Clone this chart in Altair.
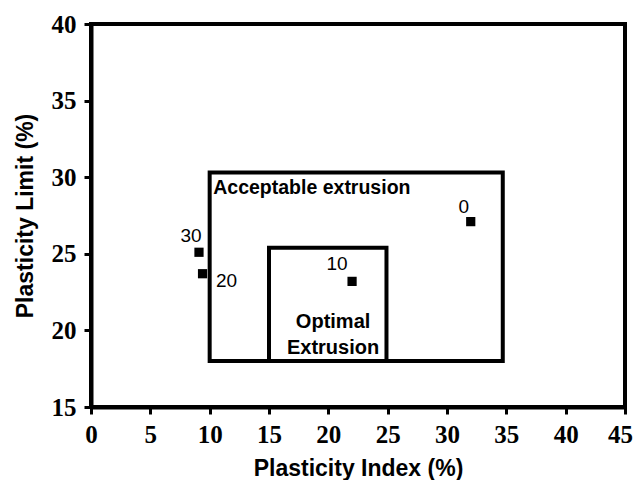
import altair as alt
import pandas as pd

# data
pi_vals = [32.0, 22.0, 9.4, 9.1]
pl_vals = [27.1, 23.2, 23.7, 25.1]
labels = ["0", "10", "20", "30"]

box_names = ["Acceptable", "Optimal"]
box_x1 = [10, 15]
box_x2 = [34.7, 24.9]
box_y1 = [18, 18]
box_y2 = [30.3, 25.4]

x_all = [v / 2 for v in range(0, 91, 5)]
y_all = [15 + v / 2 for v in range(0, 51, 5)]

pts = pd.DataFrame({"pi": pi_vals, "pl": pl_vals, "lab": labels})
boxes = pd.DataFrame({"name": box_names, "x1": box_x1, "x2": box_x2, "y1": box_y1, "y2": box_y2})

W, H = 534, 383

xscale = alt.Scale(domain=[0, 45], nice=False, zero=False)
yscale = alt.Scale(domain=[15, 40], nice=False, zero=False)

major_size = {"condition": {"test": "datum.value % 5 === 0", "value": 7}, "value": 4}
last_shift = {"condition": {"test": "datum.value === 45", "value": -5}, "value": 0}

xaxis = alt.Axis(values=x_all, title="Plasticity Index (%)",
                 labelExpr="datum.value % 5 === 0 ? datum.label : ''",
                 tickSize=major_size, tickWidth=3, tickColor="black",
                 domainWidth=4, domainColor="black", grid=False,
                 labelFont="Liberation Serif", labelFontWeight="bold", labelFontSize=25,
                 labelColor="black", labelPadding=8, labelFlush=False,
                 labelOffset=last_shift,
                 titleFont="Liberation Sans", titleFontWeight="bold", titleFontSize=23,
                 titleColor="black", titlePadding=10)
yaxis = alt.Axis(values=y_all, title="Plasticity Limit (%)",
                 labelExpr="datum.value % 5 === 0 ? datum.label : ''",
                 tickSize=major_size, tickWidth=3, tickColor="black",
                 domainWidth=4, domainColor="black", grid=False,
                 labelFont="Liberation Serif", labelFontWeight="bold", labelFontSize=25,
                 labelColor="black", labelPadding=8, labelFlush=False,
                 titleFont="Liberation Sans", titleFontWeight="bold", titleFontSize=23,
                 titleColor="black", titlePadding=14)

rects = alt.Chart(boxes).mark_rect(fill=None, stroke="black", strokeWidth=4).encode(
    x=alt.X("x1:Q", scale=xscale, axis=xaxis),
    x2="x2:Q",
    y=alt.Y("y1:Q", scale=yscale, axis=yaxis),
    y2="y2:Q",
)

points = alt.Chart(pts).mark_square(size=85, color="black", opacity=1).encode(
    x=alt.X("pi:Q", scale=xscale),
    y=alt.Y("pl:Q", scale=yscale),
)

offsets = {"0": (-7, -15), "10": (-15, -17), "20": (24, 7), "30": (-8, -16)}
label_layers = []
for lab in labels:
    dx, dy = offsets[lab]
    label_layers.append(
        alt.Chart(pts).transform_filter(alt.datum.lab == lab).mark_text(
            font="Liberation Sans", fontSize=19, color="black", dx=dx, dy=dy
        ).encode(x=alt.X("pi:Q", scale=xscale), y=alt.Y("pl:Q", scale=yscale), text="lab:N")
    )

ann_df = pd.DataFrame({"ax": [10.3], "ay": [29.3], "t": ["Acceptable extrusion"]})
ann1 = alt.Chart(ann_df).mark_text(
    font="Liberation Sans", fontWeight="bold", fontSize=19.5, color="black", align="left"
).encode(x=alt.X("ax:Q", scale=xscale), y=alt.Y("ay:Q", scale=yscale), text="t:N")

ann2_df = pd.DataFrame({"ax": [20.4], "ay": [20.55], "t": ["Optimal\nExtrusion"]})
ann2 = alt.Chart(ann2_df).mark_text(
    font="Liberation Sans", fontWeight="bold", fontSize=20, color="black", align="center",
    lineBreak="\n", lineHeight=26
).encode(x=alt.X("ax:Q", scale=xscale), y=alt.Y("ay:Q", scale=yscale), text="t:N")

chart = alt.layer(rects, points, *label_layers, ann1, ann2).properties(
    width=W, height=H,
    autosize=alt.AutoSizeParams(type="none"),
    padding={"left": 83, "top": 16, "right": 8, "bottom": 73},
).configure(
    background="white",
    view=alt.ViewConfig(stroke="black", strokeWidth=4),
)

chart.save("out.html", embed_options={"renderer": "svg", "actions": False})
